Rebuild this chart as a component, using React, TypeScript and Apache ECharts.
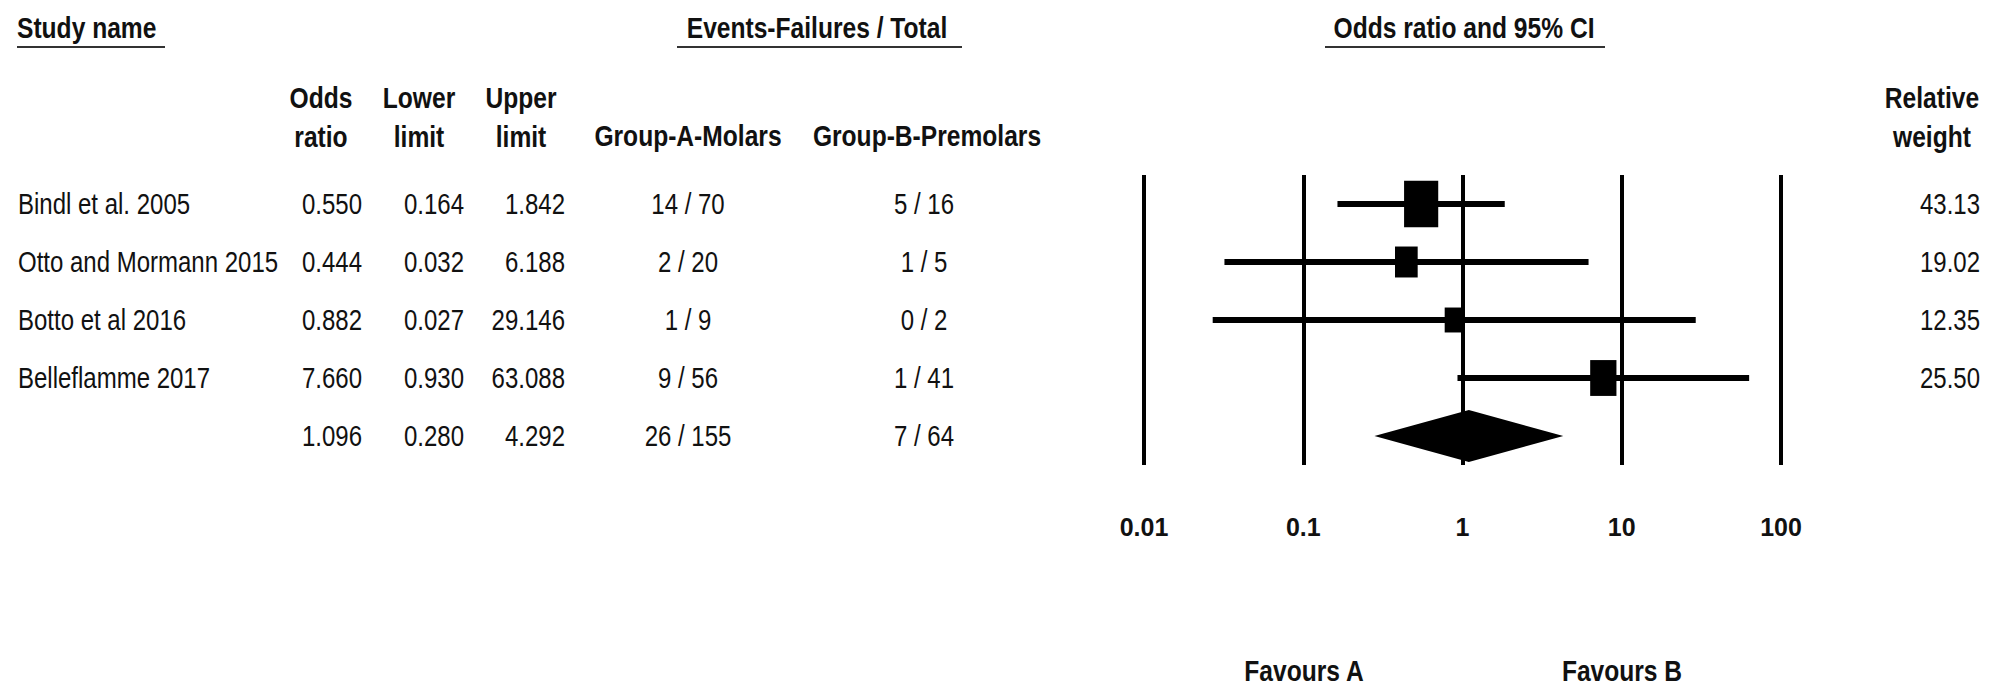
import React, { useEffect, useRef } from "react";
import * as echarts from "echarts";

// ---- data ----
const studyNames = ["Bindl et al. 2005", "Otto and Mormann 2015", "Botto et al 2016", "Belleflamme 2017"];
const oddsRatios = [0.55, 0.444, 0.882, 7.66];
const lowerLimits = [0.164, 0.032, 0.027, 0.93];
const upperLimits = [1.842, 6.188, 29.146, 63.088];
const groupA = ["14 / 70", "2 / 20", "1 / 9", "9 / 56"];
const groupB = ["5 / 16", "1 / 5", "0 / 2", "1 / 41"];
const relativeWeights = [43.13, 19.02, 12.35, 25.5];
const summaryOR = 1.096;
const summaryLower = 0.28;
const summaryUpper = 4.292;
const summaryA = "26 / 155";
const summaryB = "7 / 64";
const tickValues = [0.01, 0.1, 1, 10, 100];
const tickLabels = ["0.01", "0.1", "1", "10", "100"];

const FONT = "'Liberation Sans', Arial, Helvetica, sans-serif";
const INK = "#111";
const NARROW_BODY = 0.8;
const NARROW_HEAD = 0.82;

export default function App() {
  const ref = useRef<HTMLDivElement>(null);
  useEffect(() => {
    if (!ref.current) return;
    const chart = echarts.init(ref.current, undefined, { renderer: "svg" });
    const summaryRow = studyNames.length;

    const textCol = (rows: { row: number; text: string }[], x: number, align: string) => ({
      type: "custom",
      xAxisIndex: 1,
      yAxisIndex: 1,
      data: rows.map((r) => [x, r.row, r.text]),
      renderItem: (params: any, api: any) => {
        const p = api.coord([api.value(0), api.value(1)]);
        const item = rows[params.dataIndex];
        return {
          type: "text",
          x: p[0],
          y: p[1],
          scaleX: NARROW_BODY,
          style: { text: item.text, align, verticalAlign: "middle", fontSize: 30, fontFamily: FONT, fill: INK },
        };
      },
    });

    const allRows = (arr: string[], extra?: string) => {
      const r = arr.map((t, i) => ({ row: i, text: t }));
      if (extra !== undefined) r.push({ row: summaryRow, text: extra });
      return r;
    };

    const hdr = (text: string, x: number, y: number, align = "center") => ({
      type: "text",
      x,
      y,
      scaleX: NARROW_HEAD,
      style: { text, align, verticalAlign: "middle", fontSize: 30, fontWeight: "bold", fontFamily: FONT, fill: INK, lineHeight: 39 },
    });
    const uline = (x1: number, x2: number, y: number) => ({
      type: "line",
      shape: { x1, y1: y, x2, y2: y },
      style: { stroke: "#333", lineWidth: 2 },
    });

    chart.setOption({
      animation: false,
      backgroundColor: "#fff",
      grid: [
        { left: 1144, width: 637, top: 175, height: 290 },
        { left: 0, right: 0, top: 175, height: 290 },
      ],
      xAxis: [
        {
          type: "log",
          logBase: 10,
          min: 0.01,
          max: 100,
          gridIndex: 0,
          axisLine: { show: false },
          axisTick: { show: false },
          splitLine: { show: true, showMinLine: true, showMaxLine: true, lineStyle: { color: "#000", width: 4 } },
          axisLabel: {
            margin: 49,
            fontSize: 25,
            fontWeight: "bold",
            fontFamily: FONT,
            color: INK,
            formatter: (v: number) => {
              const i = tickValues.findIndex((t) => Math.abs(Math.log10(t) - Math.log10(v)) < 1e-6);
              return i >= 0 ? tickLabels[i] : "";
            },
          },
        },
        { type: "value", min: 0, max: 2015, gridIndex: 1, show: false },
      ],
      yAxis: [
        { type: "value", min: -0.5, max: 4.5, inverse: true, gridIndex: 0, show: false },
        { type: "value", min: -0.5, max: 4.5, inverse: true, gridIndex: 1, show: false },
      ],
      graphic: [
        hdr("Study name", 17, 28, "left"),
        uline(17, 165, 47),
        hdr("Events-Failures / Total", 817, 28),
        uline(677, 962, 47),
        hdr("Odds ratio and 95% CI", 1464, 28),
        uline(1325, 1605, 47),
        hdr("Odds\nratio", 321, 117),
        hdr("Lower\nlimit", 419, 117),
        hdr("Upper\nlimit", 521, 117),
        hdr("Group-A-Molars", 688, 136),
        hdr("Group-B-Premolars", 927, 136),
        hdr("Relative\nweight", 1932, 117),
      ].concat([
        hdr("Favours A", 1304, 671),
        hdr("Favours B", 1622, 671),
      ]),
      series: [
        {
          type: "custom",
          xAxisIndex: 0,
          yAxisIndex: 0,
          data: oddsRatios.map((v, i) => [v, lowerLimits[i], upperLimits[i], relativeWeights[i], i]),
          renderItem: (params: any, api: any) => {
            const row = api.value(4);
            const lo = api.coord([api.value(1), row]);
            const hi = api.coord([api.value(2), row]);
            const c = api.coord([api.value(0), row]);
            const s = Math.sqrt(api.value(3));
            const w = 5.2 * s;
            const h = 7.1 * s;
            return {
              type: "group",
              children: [
                { type: "line", shape: { x1: lo[0], y1: lo[1], x2: hi[0], y2: hi[1] }, style: { stroke: "#000", lineWidth: 6 } },
                { type: "rect", shape: { x: c[0] - w / 2, y: c[1] - h / 2, width: w, height: h }, style: { fill: "#000" } },
              ],
            };
          },
        },
        {
          type: "custom",
          xAxisIndex: 0,
          yAxisIndex: 0,
          data: [[summaryOR, summaryLower, summaryUpper, summaryRow]],
          renderItem: (params: any, api: any) => {
            const row = api.value(3);
            const l = api.coord([api.value(1), row]);
            const r = api.coord([api.value(2), row]);
            const t = api.coord([api.value(0), row - 0.45]);
            const b = api.coord([api.value(0), row + 0.45]);
            return {
              type: "polygon",
              shape: { points: [l, t, r, b] },
              style: { fill: "#000" },
            };
          },
        },
        textCol(allRows(studyNames), 18, "left"),
        textCol(allRows(oddsRatios.map((v) => v.toFixed(3)), summaryOR.toFixed(3)), 362, "right"),
        textCol(allRows(lowerLimits.map((v) => v.toFixed(3)), summaryLower.toFixed(3)), 464, "right"),
        textCol(allRows(upperLimits.map((v) => v.toFixed(3)), summaryUpper.toFixed(3)), 565, "right"),
        textCol(allRows(groupA, summaryA), 688, "center"),
        textCol(allRows(groupB, summaryB), 924, "center"),
        textCol(allRows(relativeWeights.map((v) => v.toFixed(2))), 1980, "right"),
      ],
    });
    return () => chart.dispose();
  }, []);
  return <div ref={ref} style={{ position: "fixed", left: 0, top: 0, width: 2015, height: 688 }} />;
}
